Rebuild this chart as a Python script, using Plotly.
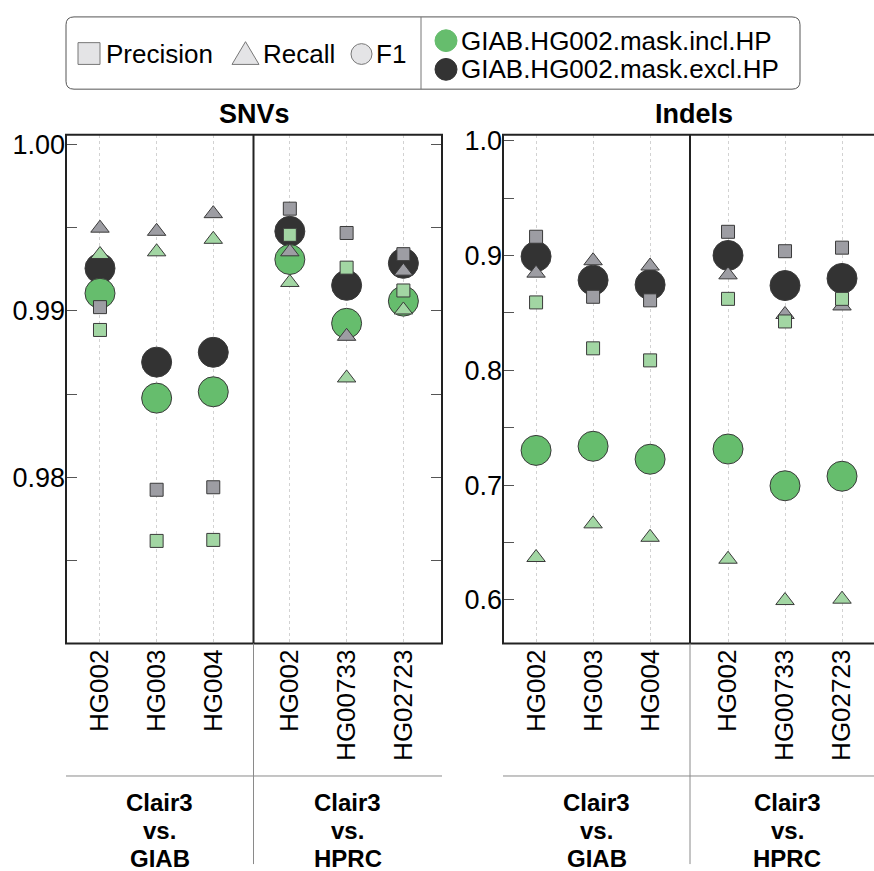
import plotly.graph_objects as go

# ---- data -------------------------------------------------------------
samples_giab = ["HG002", "HG003", "HG004"]
samples_hprc = ["HG002", "HG00733", "HG02723"]

snv_giab_incl_precision = [0.98885, 0.97619, 0.97625]
snv_giab_incl_recall = [0.99338, 0.99354, 0.99429]
snv_giab_incl_f1 = [0.99105, 0.98476, 0.98514]
snv_giab_excl_precision = [0.99022, 0.97926, 0.97941]
snv_giab_excl_recall = [0.99496, 0.99477, 0.99583]
snv_giab_excl_f1 = [0.99255, 0.98692, 0.98751]

snv_hprc_incl_precision = [0.99456, 0.99259, 0.99122]
snv_hprc_incl_recall = [0.99170, 0.98597, 0.99005]
snv_hprc_incl_f1 = [0.99308, 0.98925, 0.99058]
snv_hprc_excl_precision = [0.99613, 0.99467, 0.99340]
snv_hprc_excl_recall = [0.99354, 0.98847, 0.99238]
snv_hprc_excl_f1 = [0.99477, 0.99153, 0.99285]

indel_giab_incl_precision = [0.8591, 0.8191, 0.8086]
indel_giab_incl_recall = [0.6369, 0.6662, 0.6545]
indel_giab_incl_f1 = [0.7302, 0.7338, 0.7225]
indel_giab_excl_precision = [0.9163, 0.8640, 0.8609]
indel_giab_excl_recall = [0.8846, 0.8954, 0.8908]
indel_giab_excl_f1 = [0.8991, 0.8785, 0.8745]

indel_hprc_incl_precision = [0.8622, 0.8425, 0.8622]
indel_hprc_incl_recall = [0.6354, 0.5994, 0.6006]
indel_hprc_incl_f1 = [0.7314, 0.6994, 0.7077]
indel_hprc_excl_precision = [0.9206, 0.9037, 0.9068]
indel_hprc_excl_recall = [0.8831, 0.8486, 0.8560]
indel_hprc_excl_f1 = [0.9000, 0.8738, 0.8800]

panel_titles = ["SNVs", "Indels"]
strip_labels = [["Clair3", "vs.", "GIAB"], ["Clair3", "vs.", "HPRC"]]
legend_metrics = ["Precision", "Recall", "F1"]
legend_sets = ["GIAB.HG002.mask.incl.HP", "GIAB.HG002.mask.excl.HP"]

snv_ticks = [0.975, 0.98, 0.985, 0.99, 0.995, 1.0]
snv_ticktext = ["", "0.98", "", "0.99", "", "1.00"]
indel_ticks = [0.6, 0.65, 0.7, 0.75, 0.8, 0.85, 0.9, 0.95, 1.0]
indel_ticktext = ["0.6", "", "0.7", "", "0.8", "", "0.9", "", "1.0"]

# ---- styling ------------------------------------------------------------
W, H = 874, 871
FONT = "Liberation Sans, Arial, Helvetica, sans-serif"
GREEN = "#66bd6d"
DARK = "#333333"
LIGHT_GREEN = "#a2d6a3"
GREY = "#9d9da3"
EDGE = "#3a3a3a"


def px(x):
    return x / W


def py(y):
    return 1 - y / H


fig = go.Figure()

# Panel geometry (pixels)
TOP, BOTTOM = 127, 641
panels = [
    # (x-axis id, y-axis id, left, right, categories, range)
    ("x", "y", 66, 253.5, samples_giab, [-0.60, 2.71]),
    ("x2", "y2", 253.5, 442, samples_hprc, [-0.64, 2.68]),
    ("x3", "y3", 503, 690, samples_giab, [-0.58, 2.70]),
    ("x4", "y4", 690, 874, samples_hprc, [-0.667, 2.561]),
]

groups = [
    (snv_giab_incl_precision, snv_giab_incl_recall, snv_giab_incl_f1,
     snv_giab_excl_precision, snv_giab_excl_recall, snv_giab_excl_f1),
    (snv_hprc_incl_precision, snv_hprc_incl_recall, snv_hprc_incl_f1,
     snv_hprc_excl_precision, snv_hprc_excl_recall, snv_hprc_excl_f1),
    (indel_giab_incl_precision, indel_giab_incl_recall, indel_giab_incl_f1,
     indel_giab_excl_precision, indel_giab_excl_recall, indel_giab_excl_f1),
    (indel_hprc_incl_precision, indel_hprc_incl_recall, indel_hprc_incl_f1,
     indel_hprc_excl_precision, indel_hprc_excl_recall, indel_hprc_excl_f1),
]

for (xa, ya, l, r, cats, rng), vals in zip(panels, groups):
    ip, ir, if1, ep, er, ef1 = vals
    layers = [
        (ef1, "circle", 30, DARK),
        (if1, "circle", 30, GREEN),
        (ep, "square", 13, GREY),
        (er, "triangle-up", 16, GREY),
        (ip, "square", 13, LIGHT_GREEN),
        (ir, "triangle-up", 16, LIGHT_GREEN),
    ]
    for yv, sym, size, col in layers:
        fig.add_trace(go.Scatter(
            x=cats, y=yv, xaxis=xa, yaxis=ya, mode="markers",
            marker=dict(symbol=sym, size=size, color=col,
                        line=dict(color=EDGE, width=1)),
            showlegend=False, hoverinfo="skip"))

xcommon = dict(type="category", showgrid=True, gridcolor="#d2d2d2",
               griddash="3px,3px", gridwidth=1, zeroline=False, showline=False,
               ticks="", tickangle=-90,
               tickfont=dict(family=FONT, size=26, color="black"))

layout = dict(
    width=W, height=H, margin=dict(l=0, r=0, t=0, b=0),
    paper_bgcolor="white", plot_bgcolor="white", showlegend=False,
    font=dict(family=FONT, color="black"),
)
for i, (xa, ya, l, r, cats, rng) in enumerate(panels):
    n = "" if i == 0 else str(i + 1)
    layout["xaxis" + n] = dict(xcommon, domain=[px(l), px(r)], range=rng,
                               categoryorder="array", categoryarray=cats,
                               anchor=ya)

ycommon = dict(showgrid=False, zeroline=False, showline=False,
               ticks="inside", ticklen=11, tickwidth=1, tickcolor="#555",
               tickfont=dict(family=FONT, size=27, color="black"),
               domain=[py(BOTTOM), py(TOP)])
layout["yaxis"] = dict(ycommon, range=[0.97004, 1.00057], tickvals=snv_ticks,
                       ticktext=snv_ticktext, side="left", anchor="x")
layout["yaxis2"] = dict(ycommon, range=[0.97004, 1.00057], tickvals=snv_ticks,
                        showticklabels=False, side="right", anchor="x2",
                        matches="y")
layout["yaxis3"] = dict(ycommon, range=[0.5621, 1.0052], tickvals=indel_ticks,
                        ticktext=indel_ticktext, side="left", anchor="x3")
layout["yaxis4"] = dict(ycommon, range=[0.5621, 1.0052], tickvals=indel_ticks,
                        showticklabels=False, ticks="", side="right",
                        anchor="x4", matches="y3")
fig.update_layout(**layout)

shapes = []
annotations = []


def line(x0, y0, x1, y1, color="#222", width=2):
    shapes.append(dict(type="line", xref="paper", yref="paper",
                       x0=px(x0), y0=py(y0), x1=px(x1), y1=py(y1),
                       line=dict(color=color, width=width)))


def text(x, y, s, size=26, bold=False, xanchor="center"):
    annotations.append(dict(xref="paper", yref="paper", x=px(x), y=py(y),
                            text=f"<b>{s}</b>" if bold else s,
                            showarrow=False, xanchor=xanchor, yanchor="middle",
                            font=dict(family=FONT, size=size, color="black")))


# panel frames and facet dividers
for left, mid, right, title in [(66, 253.5, 442, panel_titles[0]),
                                (503, 690, 884, panel_titles[1])]:
    shapes.append(dict(type="rect", xref="paper", yref="paper",
                       x0=px(left), y0=py(BOTTOM), x1=px(right), y1=py(TOP),
                       line=dict(color="#222", width=2), layer="above"))
    line(mid, TOP, mid, BOTTOM, "#222", 2)
    line(mid, BOTTOM, mid, 864, "#8a8a8a", 1)
    line(left, 775, min(right, W), 775, "#8a8a8a", 1)
    text((left + right) / 2, 106, title, size=27, bold=True)
    for cx, lab in [((left + mid) / 2, strip_labels[0]),
                    ((mid + right) / 2, strip_labels[1])]:
        for k, s in enumerate(lab):
            text(cx, 802 + 28 * k, s, size=24, bold=True)

# legend box
x0, y0, x1, y1, rr = 66, 8, 800, 81, 8
path = (f"M {px(x0 + rr)},{py(y0)} L {px(x1 - rr)},{py(y0)} "
        f"Q {px(x1)},{py(y0)} {px(x1)},{py(y0 + rr)} "
        f"L {px(x1)},{py(y1 - rr)} Q {px(x1)},{py(y1)} {px(x1 - rr)},{py(y1)} "
        f"L {px(x0 + rr)},{py(y1)} Q {px(x0)},{py(y1)} {px(x0)},{py(y1 - rr)} "
        f"L {px(x0)},{py(y0 + rr)} Q {px(x0)},{py(y0)} {px(x0 + rr)},{py(y0)} Z")
shapes.append(dict(type="path", xref="paper", yref="paper", path=path,
                   line=dict(color="#555", width=1)))
line(421, y0, 421, y1, "#777", 1)

LEG_FILL = "#e4e4e6"
LEG_LINE = "#777"
# square
shapes.append(dict(type="rect", xref="paper", yref="paper",
                   x0=px(78), y0=py(56), x1=px(100), y1=py(34),
                   fillcolor=LEG_FILL, line=dict(color=LEG_LINE, width=1)))
text(104, 45, legend_metrics[0], xanchor="left")
# triangle
shapes.append(dict(type="path", xref="paper", yref="paper",
                   path=f"M {px(232)},{py(56)} L {px(259)},{py(56)} L {px(245.5)},{py(33)} Z",
                   fillcolor=LEG_FILL, line=dict(color=LEG_LINE, width=1)))
text(261, 45, legend_metrics[1], xanchor="left")
# circle
shapes.append(dict(type="circle", xref="paper", yref="paper",
                   x0=px(351), y0=py(56), x1=px(372), y1=py(35),
                   fillcolor=LEG_FILL, line=dict(color=LEG_LINE, width=1)))
text(374, 45, legend_metrics[2], xanchor="left")
# set colours
for cy, col, lab in [(32, GREEN, legend_sets[0]), (61, DARK, legend_sets[1])]:
    shapes.append(dict(type="circle", xref="paper", yref="paper",
                       x0=px(435), y0=py(cy + 11), x1=px(457), y1=py(cy - 11),
                       fillcolor=col, line=dict(color=col, width=1)))
    text(459, cy, lab, xanchor="left")

fig.update_layout(shapes=shapes, annotations=annotations)
fig.write_html("out.html")
